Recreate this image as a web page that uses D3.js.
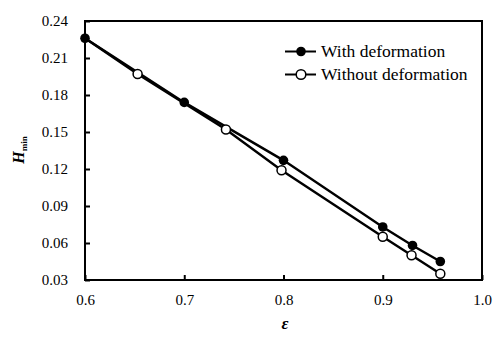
<!DOCTYPE html>
<html><head><meta charset="utf-8">
<script src="https://cdn.jsdelivr.net/npm/d3@7"></script>
<style>body{margin:0;background:#fff} svg text{font-family:"Liberation Serif","DejaVu Serif",serif}</style>
</head><body>
<script>
const xTicks = [0.6, 0.7, 0.8, 0.9, 1.0];
const yTicks = [0.03, 0.06, 0.09, 0.12, 0.15, 0.18, 0.21, 0.24];
const withX = [0.6, 0.7, 0.8, 0.9, 0.93, 0.958];
const withY = [0.226, 0.174, 0.127, 0.073, 0.058, 0.045];
const withoutX = [0.6, 0.653, 0.742, 0.798, 0.9, 0.929, 0.958];
const withoutY = [0.226, 0.197, 0.152, 0.119, 0.065, 0.050, 0.035];
const legendLabels = ["With deformation", "Without deformation"];

const W = 502, H = 342;
const m = {l: 85, r: 20, t: 21, b: 62};
const svg = d3.select("body").append("svg").attr("width", W).attr("height", H);
const x = d3.scaleLinear().domain([0.6, 1.0]).range([m.l, W - m.r]);
const y = d3.scaleLinear().domain([0.03, 0.24]).range([H - m.b, m.t]);

// ticks (inward)
const xa = svg.append("g").attr("transform", `translate(0,${H - m.b})`)
  .call(d3.axisBottom(x).tickValues(xTicks).tickFormat(d3.format(".1f")).tickSizeInner(-5).tickSizeOuter(0).tickPadding(14));
const ya = svg.append("g").attr("transform", `translate(${m.l},0)`)
  .call(d3.axisLeft(y).tickValues(yTicks).tickFormat(d3.format(".2f")).tickSizeInner(-5).tickSizeOuter(0).tickPadding(17));
[xa, ya].forEach(a => {
  a.attr("font-size", 15);
  a.select(".domain").remove();
  a.selectAll(".tick line").attr("stroke", "#000").attr("stroke-width", 2);
  a.selectAll("text").attr("fill", "#000");
});

// frame
svg.append("rect").attr("x", x(0.6)).attr("y", y(0.24))
  .attr("width", x(1.0) - x(0.6)).attr("height", y(0.03) - y(0.24))
  .attr("fill", "none").attr("stroke", "#000").attr("stroke-width", 2);

const line = d3.line().x(d => x(d[0])).y(d => y(d[1]));
const withPts = withX.map((v, i) => [v, withY[i]]);
const withoutPts = withoutX.map((v, i) => [v, withoutY[i]]);
svg.append("path").datum(withoutPts).attr("d", line).attr("fill", "none").attr("stroke", "#000").attr("stroke-width", 2.4);
svg.append("path").datum(withPts).attr("d", line).attr("fill", "none").attr("stroke", "#000").attr("stroke-width", 2.4);
svg.selectAll(".fm").data(withPts).enter().append("circle")
  .attr("cx", d => x(d[0])).attr("cy", d => y(d[1])).attr("r", 4.8).attr("fill", "#000");
svg.selectAll(".om").data(withoutPts.slice(1)).enter().append("circle")
  .attr("cx", d => x(d[0])).attr("cy", d => y(d[1])).attr("r", 4.5)
  .attr("fill", "#fff").attr("stroke", "#000").attr("stroke-width", 1.5);

// legend
const lg = svg.append("g");
legendLabels.forEach((t, i) => {
  const ly = 51.5 + i * 23;
  lg.append("line").attr("x1", 285).attr("x2", 316).attr("y1", ly).attr("y2", ly).attr("stroke", "#000").attr("stroke-width", 2);
  lg.append("circle").attr("cx", 301).attr("cy", ly).attr("r", 4.8)
    .attr("fill", i === 0 ? "#000" : "#fff").attr("stroke", "#000").attr("stroke-width", i === 0 ? 0 : 1.5);
  lg.append("text").attr("x", 321).attr("y", ly + 5.5).attr("font-size", 17.5).text(t);
});

// axis titles
svg.append("text").attr("x", 285).attr("y", 329).attr("text-anchor", "middle")
  .attr("font-size", 17).attr("font-style", "italic").attr("font-weight", "bold").text("ε");
const yt = svg.append("text").attr("transform", "translate(24,150) rotate(-90)").attr("text-anchor", "middle");
yt.append("tspan").attr("font-size", 16).attr("font-style", "italic").attr("font-weight", "bold").text("H");
yt.append("tspan").attr("font-size", 9).attr("font-weight", "bold").attr("dy", 3).text("min");
</script>
</body></html>
